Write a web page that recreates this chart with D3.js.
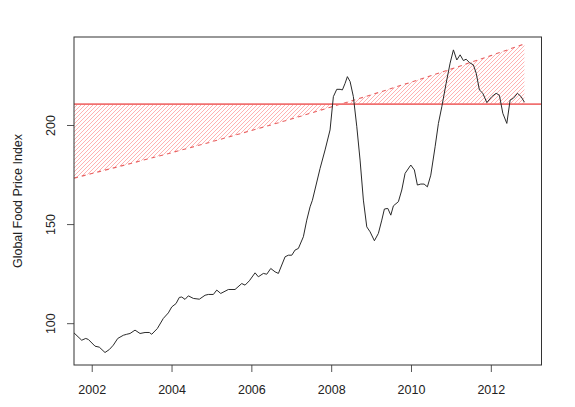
<!DOCTYPE html>
<html>
<head>
<meta charset="utf-8">
<script src="https://cdn.jsdelivr.net/npm/d3@7"></script>
<style>
  body { margin: 0; background: #fff; }
  text { font-family: "Liberation Sans", Arial, sans-serif; fill: #222; }
</style>
</head>
<body>
<div id="chart"></div>
<script>
// food price index (decimal year, index)
var years = [2001.556, 2001.749, 2001.850, 2001.915, 2002.083, 2002.190, 2002.333, 2002.441, 2002.541, 2002.652,
  2002.792, 2002.877, 2002.960, 2003.085, 2003.211, 2003.336, 2003.444, 2003.504, 2003.644, 2003.794,
  2003.920, 2004.005, 2004.113, 2004.195, 2004.256, 2004.338, 2004.421, 2004.546, 2004.697, 2004.840,
  2004.922, 2005.048, 2005.133, 2005.233, 2005.424, 2005.591, 2005.759, 2005.842, 2005.950, 2006.093,
  2006.175, 2006.301, 2006.386, 2006.486, 2006.594, 2006.677, 2006.845, 2006.927, 2007.013, 2007.095,
  2007.178, 2007.303, 2007.388, 2007.471, 2007.529, 2007.722, 2007.847, 2007.972, 2008.055, 2008.140,
  2008.223, 2008.281, 2008.348, 2008.406, 2008.474, 2008.556, 2008.642, 2008.724, 2008.807, 2008.892,
  2008.975, 2009.083, 2009.183, 2009.268, 2009.333, 2009.419, 2009.494, 2009.559, 2009.684, 2009.769,
  2009.852, 2009.995, 2010.085, 2010.160, 2010.246, 2010.328, 2010.411, 2010.496, 2010.604, 2010.687,
  2010.772, 2010.880, 2010.980, 2011.063, 2011.148, 2011.231, 2011.313, 2011.381, 2011.464, 2011.564,
  2011.634, 2011.714, 2011.800, 2011.900, 2012.025, 2012.133, 2012.215, 2012.301, 2012.401, 2012.484,
  2012.566, 2012.667, 2012.759, 2012.842];
var index = [95.1, 91.4, 92.3, 91.8, 88.4, 87.9, 85.2, 86.7, 88.9, 92.3,
  93.9, 94.4, 94.8, 96.5, 94.8, 95.3, 95.3, 94.4, 97.3, 102.4,
  105.2, 108.2, 109.9, 113.0, 113.2, 112.0, 113.8, 112.5, 112.1, 114.1,
  114.5, 114.5, 116.7, 115.0, 117.0, 117.0, 120.0, 119.2, 121.4, 125.4,
  123.4, 125.1, 124.7, 127.6, 125.9, 125.1, 133.5, 134.3, 134.3, 136.9,
  137.7, 143.6, 152.0, 158.7, 162.0, 178.1, 187.4, 197.5, 214.3, 218.0,
  218.0, 217.7, 221.0, 224.4, 221.9, 214.3, 199.1, 182.3, 162.1, 148.6,
  146.1, 141.6, 145.3, 152.0, 157.6, 157.9, 154.5, 159.2, 161.3, 167.2,
  175.6, 179.8, 177.3, 169.7, 170.2, 170.2, 168.8, 174.7, 189.0, 200.8,
  209.2, 221.0, 231.2, 237.9, 232.8, 235.4, 232.5, 233.2, 231.5, 230.3,
  226.1, 217.7, 216.0, 211.3, 214.3, 216.0, 215.0, 205.9, 200.8, 212.6,
  213.5, 216.0, 214.3, 211.5];

// trend (dashed) and threshold level
var trendYears = [2001.556, 2002, 2003, 2004, 2005, 2006, 2007, 2008, 2009, 2010, 2011, 2012, 2012.842];
var trendValues = [173.2, 175.5, 180.7, 186.0, 191.5, 197.2, 203.0, 209.1, 215.2, 221.6, 228.2, 235.0, 240.9];
var threshold = 210.5;

var xTicks = [2002, 2004, 2006, 2008, 2010, 2012];
var yTicks = [100, 150, 200];
var yLabel = "Global Food Price Index";

var width = 575, height = 407;
var margin = { top: 37, right: 33.5, bottom: 42, left: 74 };

var svg = d3.select("#chart").append("svg")
    .attr("width", width)
    .attr("height", height);

var x = d3.scaleLinear()
    .domain([2001.556, 2013.27])
    .range([margin.left, width - margin.right]);

var y = d3.scaleLinear()
    .domain([78.9, 244.4])
    .range([height - margin.bottom, margin.top]);

var trend = trendYears.map(function(d, i) { return { year: d, value: trendValues[i] }; });
var series = years.map(function(d, i) { return { year: d, value: index[i] }; });

// hatched gap between level and trend (density-style shading)
var area = d3.area()
    .x(function(d) { return x(d.year); })
    .y0(function() { return y(threshold); })
    .y1(function(d) { return y(d.value); });

svg.append("clipPath")
    .attr("id", "gap")
  .append("path")
    .datum(trend)
    .attr("d", area);

var step = 4;
var offsets = d3.range(margin.left - height, width, step);
svg.append("g")
    .attr("clip-path", "url(#gap)")
  .selectAll("line")
    .data(offsets)
  .enter().append("line")
    .attr("x1", function(d) { return d; })
    .attr("y1", height)
    .attr("x2", function(d) { return d + height; })
    .attr("y2", 0)
    .style("stroke", "rgb(255,0,0)")
    .style("stroke-opacity", 0.3)
    .style("stroke-width", 1);

svg.append("path")
    .datum(trend)
    .attr("d", d3.line().x(function(d) { return x(d.year); }).y(function(d) { return y(d.value); }))
    .attr("fill", "none")
    .attr("stroke", "#e86262")
    .attr("stroke-width", 1.1)
    .attr("stroke-dasharray", "4,4");

svg.append("line")
    .attr("x1", x.range()[0]).attr("x2", x.range()[1])
    .attr("y1", y(threshold)).attr("y2", y(threshold))
    .attr("stroke", "#f07070")
    .attr("stroke-width", 1.8);

svg.append("path")
    .datum(series)
    .attr("d", d3.line().x(function(d) { return x(d.year); }).y(function(d) { return y(d.value); }))
    .attr("fill", "none")
    .attr("stroke", "#2a2a2a")
    .attr("stroke-width", 1);

// axes, R style
var xAxis = svg.append("g")
    .attr("transform", "translate(0," + (height - margin.bottom) + ")")
    .call(d3.axisBottom(x).tickValues(xTicks).tickFormat(d3.format("d")).tickSize(7).tickPadding(13));
xAxis.select(".domain").remove();
xAxis.selectAll("line").attr("stroke", "#555");
xAxis.selectAll("text").style("font-size", "12.5px").attr("fill", "#222");

var yAxis = svg.append("g")
    .attr("transform", "translate(" + margin.left + ",0)")
    .call(d3.axisLeft(y).tickValues(yTicks).tickSize(7).tickPadding(0));
yAxis.select(".domain").remove();
yAxis.selectAll("line").attr("stroke", "#555");
yAxis.selectAll("text")
    .style("font-size", "12.5px")
    .attr("fill", "#222")
    .attr("x", 0).attr("dy", 0)
    .attr("text-anchor", "middle")
    .attr("transform", "translate(-19,0) rotate(-90)");

svg.append("rect")
    .attr("x", margin.left).attr("y", margin.top)
    .attr("width", width - margin.left - margin.right)
    .attr("height", height - margin.top - margin.bottom)
    .attr("fill", "none")
    .attr("stroke", "#333")
    .attr("stroke-width", 1);

svg.append("text")
    .attr("transform", "translate(22," + (margin.top + (height - margin.top - margin.bottom) / 2) + ") rotate(-90)")
    .attr("text-anchor", "middle")
    .style("font-size", "12.5px")
    .text(yLabel);
</script>
</body>
</html>
